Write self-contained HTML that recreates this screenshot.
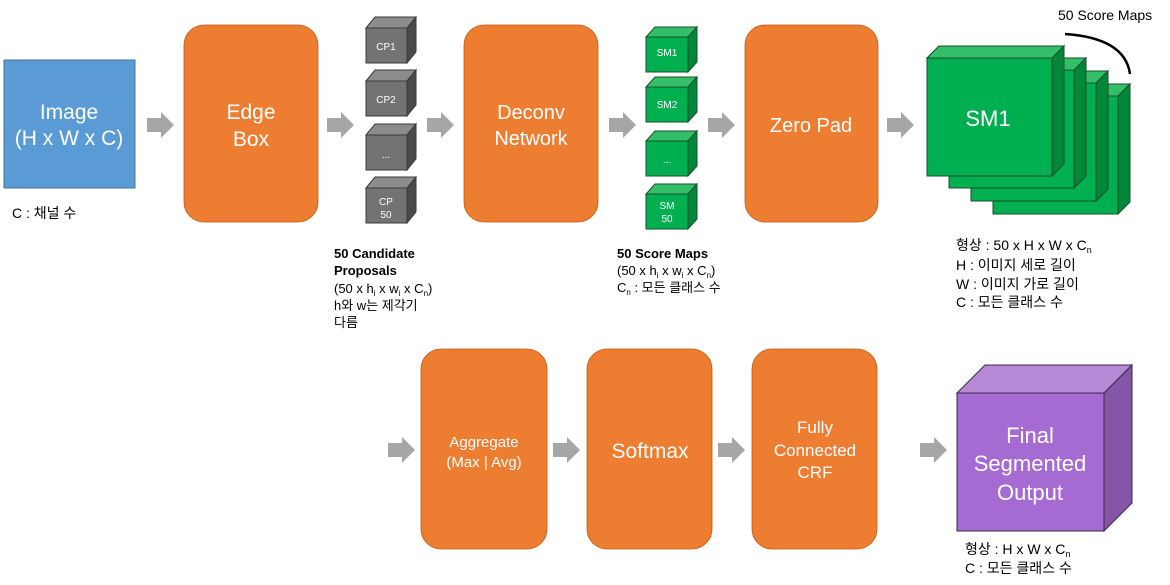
<!DOCTYPE html>
<html><head><meta charset="utf-8"><style>
html,body{margin:0;padding:0;background:#fff;}
svg{display:block;}
text{font-family:"Liberation Sans","Noto Sans CJK KR",sans-serif;}
</style></head><body>
<svg width="1170" height="585" viewBox="0 0 1170 585" xmlns="http://www.w3.org/2000/svg">
<defs>
<g id="arr"><polygon points="0,-7 14,-7 14,-13 27,0 14,13 14,7 0,7" fill="#A6A6A6"/></g>
</defs>
<!-- Image -->
<rect x="4" y="60" width="131" height="128" fill="#5B9BD5" stroke="#41719C" stroke-width="1"/>
<text x="69" y="119" fill="#fff" font-size="21" text-anchor="middle">Image</text>
<text x="69" y="145" fill="#fff" font-size="21" text-anchor="middle">(H x W x C)</text>
<text x="12" y="218" font-size="14" fill="#000">C : 채널 수</text>

<!-- arrows top -->
<use href="#arr" x="147" y="125"/>
<use href="#arr" x="327" y="125"/>
<use href="#arr" x="427" y="125"/>
<use href="#arr" x="609" y="125"/>
<use href="#arr" x="708" y="125"/>
<use href="#arr" x="887" y="125"/>
<!-- arrows bottom -->
<use href="#arr" x="388" y="450"/>
<use href="#arr" x="553" y="450"/>
<use href="#arr" x="718" y="450"/>
<use href="#arr" x="920" y="450"/>

<!-- orange boxes -->
<g fill="#ED7D31" stroke="#C55A11" stroke-width="0.8">
<rect x="184" y="25" width="134" height="197" rx="20"/>
<rect x="464" y="25" width="134" height="197" rx="20"/>
<rect x="745" y="25" width="133" height="197" rx="20"/>
<rect x="421" y="349" width="126" height="200" rx="20"/>
<rect x="587" y="349" width="125" height="200" rx="20"/>
<rect x="752" y="349" width="125" height="200" rx="20"/>
</g>
<g fill="#fff" text-anchor="middle">
<text x="251" y="119" font-size="21">Edge</text>
<text x="251" y="146" font-size="21">Box</text>
<text x="531" y="119" font-size="20">Deconv</text>
<text x="531" y="145" font-size="20">Network</text>
<text x="811" y="132" font-size="20">Zero  Pad</text>
<text x="484" y="447" font-size="15">Aggregate</text>
<text x="484" y="467" font-size="15">(Max | Avg)</text>
<text x="650" y="458" font-size="21">Softmax</text>
<text x="815" y="433" font-size="17">Fully</text>
<text x="815" y="456" font-size="17">Connected</text>
<text x="815" y="478" font-size="17">CRF</text>
</g>

<!-- gray cubes -->
<g stroke="#3a3a3a" stroke-width="1">
<g id="gc">
<polygon points="366,28 375,17 416,17 407,28" fill="#8c8c8c"/>
<polygon points="407,28 416,17 416,52 407,63" fill="#4a4a4a"/>
<rect x="366" y="28" width="41" height="35" fill="#737373"/>
</g>
<use href="#gc" y="53"/>
<use href="#gc" y="107"/>
<use href="#gc" y="160"/>
</g>
<g fill="#fff" font-size="10" text-anchor="middle">
<text x="386" y="50">CP1</text>
<text x="386" y="103">CP2</text>
<text x="386" y="158">...</text>
<text x="386" y="205">CP</text>
<text x="386" y="218">50</text>
</g>
<text x="334" y="258" font-size="13" font-weight="bold">50 Candidate</text>
<text x="334" y="275" font-size="13" font-weight="bold">Proposals</text>
<text x="334" y="293" font-size="13">(50 x h<tspan font-size="8" dy="3">i</tspan><tspan dy="-3"> x w</tspan><tspan font-size="8" dy="3">i</tspan><tspan dy="-3"> x C</tspan><tspan font-size="8" dy="3">n</tspan><tspan dy="-3">)</tspan></text>
<text x="334" y="310" font-size="13">h와 w는 제각기</text>
<text x="334" y="327" font-size="13">다름</text>

<!-- green small cubes -->
<g stroke="#1d4d2c" stroke-width="1">
<g id="sc">
<polygon points="646,37 655,27 697,27 688,37" fill="#33bf6a"/>
<polygon points="688,37 697,27 697,62 688,72" fill="#00873a"/>
<rect x="646" y="37" width="42" height="35" fill="#00B050"/>
</g>
<use href="#sc" y="50"/>
<use href="#sc" y="104"/>
<use href="#sc" y="157"/>
</g>
<g fill="#fff" font-size="10" text-anchor="middle">
<text x="667" y="56">SM1</text>
<text x="667" y="108">SM2</text>
<text x="667" y="163">...</text>
<text x="667" y="209">SM</text>
<text x="667" y="222">50</text>
</g>
<text x="617" y="258" font-size="13" font-weight="bold">50 Score  Maps</text>
<text x="617" y="275" font-size="13">(50 x h<tspan font-size="8" dy="3">i</tspan><tspan dy="-3"> x w</tspan><tspan font-size="8" dy="3">i</tspan><tspan dy="-3"> x C</tspan><tspan font-size="8" dy="3">n</tspan><tspan dy="-3">)</tspan></text>
<text x="617" y="292" font-size="13">C<tspan font-size="8" dy="3">n</tspan><tspan dy="-3"> : 모든 클래스 수</tspan></text>

<!-- big green stack -->
<g stroke="#1d4d2c" stroke-width="1">
<g id="bc">
<polygon points="927,58 939,46 1064,46 1052,58" fill="#33bf6a"/>
<polygon points="1052,58 1064,46 1064,164 1052,176" fill="#00873a"/>
<rect x="927" y="58" width="125" height="118" fill="#00B050"/>
</g>
<use href="#bc" x="66" y="38"/>
<use href="#bc" x="44" y="25"/>
<use href="#bc" x="22" y="12"/>
<use href="#bc"/>
</g>
<text x="988" y="126" fill="#fff" font-size="22" text-anchor="middle">SM1</text>
<path d="M1065,34 Q1125,38 1130,74" fill="none" stroke="#000" stroke-width="2.5"/>
<text x="1058" y="20" font-size="14">50 Score Maps</text>
<g font-size="14">
<text x="956" y="250">형상 : 50 x H x W x C<tspan font-size="9" dy="3">n</tspan></text>
<text x="956" y="270">H : 이미지 세로 길이</text>
<text x="956" y="289">W : 이미지 가로 길이</text>
<text x="956" y="307">C : 모든 클래스 수</text>
</g>

<!-- purple cube -->
<g stroke="#3b2a4a" stroke-width="1">
<polygon points="957,393 985,365 1132,365 1104,393" fill="#B589D6"/>
<polygon points="1104,393 1132,365 1132,503 1104,531" fill="#8555A8"/>
<rect x="957" y="393" width="147" height="138" fill="#A66BD3"/>
</g>
<g fill="#fff" font-size="22" text-anchor="middle">
<text x="1030" y="443">Final</text>
<text x="1030" y="471">Segmented</text>
<text x="1030" y="500">Output</text>
</g>
<g font-size="14">
<text x="965" y="554">형상 : H x W x C<tspan font-size="9" dy="3">n</tspan></text>
<text x="965" y="573">C : 모든 클래스 수</text>
</g>
</svg>
</body></html>
